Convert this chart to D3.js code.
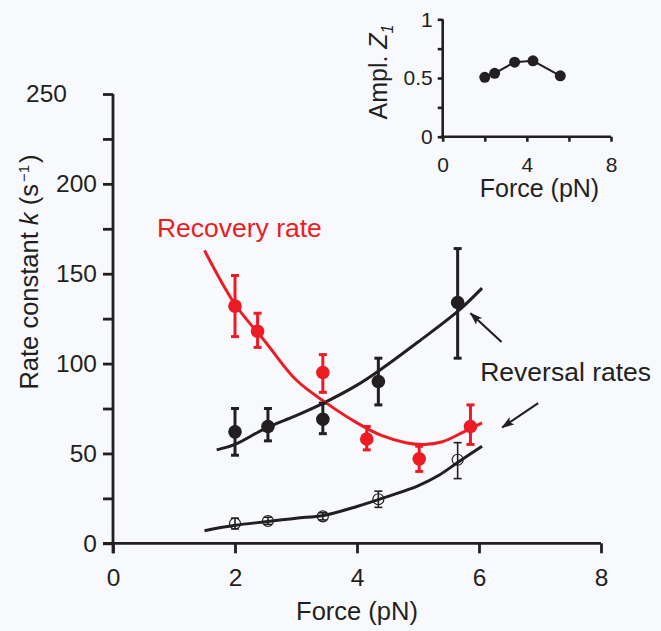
<!DOCTYPE html>
<head>
  <meta charset="utf-8">
  <script src="https://cdn.jsdelivr.net/npm/d3@7"></script>
</head>
<style>
  body { margin: 0; background: #f8f9fc; }
  svg { display: block; font-family: "Liberation Sans", Arial, sans-serif; }
</style>
<body>
<script>

// main panel data (force in pN, rate in s^-1)
var recoveryForce = [2.0, 2.37, 3.44, 4.16, 5.02, 5.86];
var recoveryRate  = [132, 118, 95, 58, 47, 65];
var recoveryHi    = [149, 128, 105, 65, 54, 77];
var recoveryLo    = [115, 109, 84, 52, 40, 55];

var reversalForce  = [2.0, 2.54, 3.44, 4.35, 5.65];
var reversalFast   = [62, 65, 69, 90, 134];
var reversalFastHi = [75, 75, 78, 103, 164];
var reversalFastLo = [49, 57, 61, 77, 103];
var reversalSlow   = [11, 12.4, 15, 24.5, 46.5];
var reversalSlowHi = [14, 14.5, 17, 29, 56];
var reversalSlowLo = [8, 10.5, 13, 20, 36];

// fitted curves
var recoveryFit = [[1.5,163],[2.0,133],[2.5,112],[3.0,91],[3.5,78],[4.0,67],[4.4,60],[4.8,56],[5.1,55],[5.4,56.5],[5.75,62],[6.05,67]];
var fastFit = [[1.7,52],[2.0,55],[2.5,64],[3.0,71],[3.45,78],[4.0,88],[4.4,97],[5.0,112],[5.65,129],[6.05,142]];
var slowFit = [[1.5,7],[2.0,10],[2.5,12],[3.0,14],[3.45,15.5],[4.0,20.5],[4.5,26],[5.0,32],[5.35,38],[5.65,45],[6.05,54]];

var xTicks = [0, 2, 4, 6, 8];
var yTicks = [0, 25, 50, 75, 100, 125, 150, 175, 200, 225, 250];

// inset data
var insetForce = [2.0, 2.47, 3.42, 4.29, 5.59];
var insetAmpl  = [0.506, 0.54, 0.635, 0.646, 0.519];
var insetXTicks = [0, 2, 4, 6, 8];
var insetYTicks = [0, 0.25, 0.5, 0.75, 1];

// arrows [tailF, tailK, headF, headK]
var arrows = [[6.37, 112, 5.86, 128], [6.97, 78, 6.38, 64.5]];

var red = "#ec1c24", ink = "#231f20";

var W = 661, H = 631;
var svg = d3.select("body").append("svg").attr("width", W).attr("height", H);

var x = d3.scaleLinear().domain([0, 8]).range([113, 601]);
var y = d3.scaleLinear().domain([0, 250]).range([543.3, 94]);

// axes
var xAxis = svg.append("g")
    .attr("transform", "translate(0," + y(0) + ")")
    .call(d3.axisBottom(x).tickValues(xTicks).tickSize(10).tickSizeOuter(0).tickPadding(15));
var yAxis = svg.append("g")
    .attr("transform", "translate(" + x(0) + ",0)")
    .call(d3.axisLeft(y).tickValues(yTicks).tickSize(10).tickSizeOuter(0).tickPadding(6)
      .tickFormat(function(d) { return d % 50 == 0 ? d : ""; }));

[xAxis, yAxis].forEach(function(a) {
  a.select(".domain").remove();
  a.selectAll("line").attr("stroke", ink).attr("stroke-width", 2.8);
  a.selectAll("text").attr("fill", ink).style("font-size", "24.5px")
    .style("font-family", "'Liberation Sans', Arial, sans-serif");
});
// the top label sits off to the left in the original
yAxis.selectAll("text").filter(function(d) { return d == 250; }).attr("dx", -30);

svg.append("line").attr("x1", x(0)).attr("x2", x(0)).attr("y1", y(250)).attr("y2", y(0) + 10)
  .attr("stroke", ink).attr("stroke-width", 2.8);
svg.append("line").attr("x1", x(0) - 10).attr("x2", x(8)).attr("y1", y(0)).attr("y2", y(0))
  .attr("stroke", ink).attr("stroke-width", 2.8);

svg.append("text").attr("x", x(4)).attr("y", 620).attr("text-anchor", "middle")
  .style("font-size", "25.5px").attr("fill", ink).text("Force (pN)");

var yt = svg.append("text").attr("transform", "translate(38,272) rotate(-90)")
  .attr("text-anchor", "middle").style("font-size", "25.5px").attr("fill", ink);
yt.append("tspan").text("Rate constant ");
yt.append("tspan").style("font-style", "italic").text("k");
yt.append("tspan").text(" (s");
yt.append("tspan").attr("dy", -9).attr("dx", 2).style("font-size", "15px").text("\u22121");
yt.append("tspan").attr("dy", 9).attr("dx", 2).text(")");

// fitted curves
var line = d3.line().x(function(d) { return x(d[0]); }).y(function(d) { return y(d[1]); })
  .curve(d3.curveCatmullRom.alpha(0.5));

svg.append("path").attr("d", line(fastFit)).attr("fill", "none").attr("stroke", ink).attr("stroke-width", 3);
svg.append("path").attr("d", line(slowFit)).attr("fill", "none").attr("stroke", ink).attr("stroke-width", 3);
svg.append("path").attr("d", line(recoveryFit)).attr("fill", "none").attr("stroke", red).attr("stroke-width", 3);

// error bars + points
function series(fs, vs, lo, hi, color, r, open, cap) {
  var g = svg.append("g");
  var data = fs.map(function(f, i) { return {f: f, v: vs[i], lo: lo[i], hi: hi[i]}; });
  var eb = g.selectAll(".eb").data(data).enter().append("g").attr("class", "eb");
  eb.append("line").attr("x1", function(d) { return x(d.f); }).attr("x2", function(d) { return x(d.f); })
    .attr("y1", function(d) { return y(d.lo); }).attr("y2", function(d) { return y(d.hi); })
    .attr("stroke", color).attr("stroke-width", open ? 1.6 : 3);
  ["lo", "hi"].forEach(function(k) {
    eb.append("line").attr("x1", function(d) { return x(d.f) - cap; }).attr("x2", function(d) { return x(d.f) + cap; })
      .attr("y1", function(d) { return y(d[k]); }).attr("y2", function(d) { return y(d[k]); })
      .attr("stroke", color).attr("stroke-width", open ? 1.6 : 3);
  });
  g.selectAll("circle").data(data).enter().append("circle")
    .attr("cx", function(d) { return x(d.f); }).attr("cy", function(d) { return y(d.v); })
    .attr("r", r)
    .attr("fill", open ? "none" : color)
    .attr("stroke", color).attr("stroke-width", open ? 1.2 : 0);
}

series(reversalForce, reversalSlow, reversalSlowLo, reversalSlowHi, ink, 5.5, true, 4);
series(reversalForce, reversalFast, reversalFastLo, reversalFastHi, ink, 6.8, false, 4);
series(recoveryForce, recoveryRate, recoveryLo, recoveryHi, red, 6.8, false, 4);

// labels and arrows
svg.append("text").attr("x", x(0.72)).attr("y", y(170.4)).style("font-size", "26.5px")
  .attr("fill", red).text("Recovery rate");
svg.append("text").attr("x", x(6.02)).attr("y", y(90.5)).style("font-size", "26.5px")
  .attr("fill", ink).text("Reversal rates");

svg.append("defs").append("marker").attr("id", "head")
  .attr("viewBox", "0 0 13 9").attr("refX", 12).attr("refY", 4.5)
  .attr("markerWidth", 13).attr("markerHeight", 9).attr("markerUnits", "userSpaceOnUse")
  .attr("orient", "auto")
  .append("path").attr("d", "M0,0L13,4.5L0,9L3,4.5Z").attr("fill", ink);

svg.selectAll(".arrow").data(arrows).enter().append("line").attr("class", "arrow")
  .attr("x1", function(d) { return x(d[0]); }).attr("y1", function(d) { return y(d[1]); })
  .attr("x2", function(d) { return x(d[2]); }).attr("y2", function(d) { return y(d[3]); })
  .attr("stroke", ink).attr("stroke-width", 2.2).attr("marker-end", "url(#head)");

// inset
var ix = d3.scaleLinear().domain([0, 8]).range([442.7, 611]);
var iy = d3.scaleLinear().domain([0, 1]).range([136.7, 19.3]);

var ixAxis = svg.append("g").attr("transform", "translate(0," + iy(0) + ")")
  .call(d3.axisBottom(ix).tickValues(insetXTicks).tickSize(5).tickSizeOuter(0).tickPadding(15)
    .tickFormat(function(d) { return d % 4 == 0 ? d : ""; }));
var iyAxis = svg.append("g").attr("transform", "translate(" + ix(0) + ",0)")
  .call(d3.axisLeft(iy).tickValues(insetYTicks).tickSize(5).tickSizeOuter(0).tickPadding(5)
    .tickFormat(function(d) { return d == 0.5 ? "0.5" : (d == 0 || d == 1 ? d : ""); }));

[ixAxis, iyAxis].forEach(function(a) {
  a.select(".domain").remove();
  a.selectAll("line").attr("stroke", ink).attr("stroke-width", 2.6);
  a.selectAll("text").attr("fill", ink).style("font-size", "21px")
    .style("font-family", "'Liberation Sans', Arial, sans-serif");
});
svg.append("line").attr("x1", ix(0)).attr("x2", ix(0)).attr("y1", iy(1)).attr("y2", iy(0) + 2)
  .attr("stroke", ink).attr("stroke-width", 2.6);
svg.append("line").attr("x1", ix(0) - 2).attr("x2", ix(8)).attr("y1", iy(0)).attr("y2", iy(0))
  .attr("stroke", ink).attr("stroke-width", 2.6);

svg.append("text").attr("x", ix(4.6)).attr("y", 197).attr("text-anchor", "middle")
  .style("font-size", "25px").attr("fill", ink).text("Force (pN)");
var it = svg.append("text").attr("transform", "translate(387,72) rotate(-90)")
  .attr("text-anchor", "middle").style("font-size", "25px").attr("fill", ink);
it.append("tspan").text("Ampl. ");
it.append("tspan").style("font-style", "italic").text("Z");
it.append("tspan").attr("dy", 6).style("font-size", "16px").style("font-style", "italic").text("1");

var ipts = insetForce.map(function(f, i) { return [f, insetAmpl[i]]; });
svg.append("path")
  .attr("d", d3.line().x(function(d) { return ix(d[0]); }).y(function(d) { return iy(d[1]); })(ipts))
  .attr("fill", "none").attr("stroke", ink).attr("stroke-width", 2);
svg.selectAll(".ipt").data(ipts).enter().append("circle").attr("class", "ipt")
  .attr("cx", function(d) { return ix(d[0]); }).attr("cy", function(d) { return iy(d[1]); })
  .attr("r", 5.5).attr("fill", ink);

</script>
</body>
